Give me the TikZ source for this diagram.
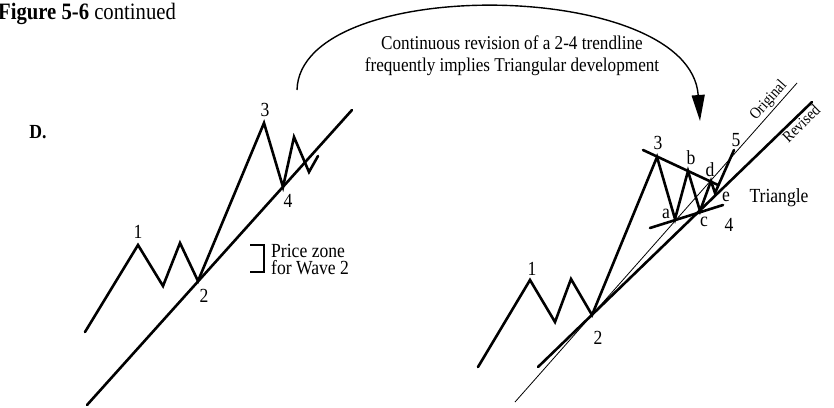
\documentclass[tikz,border=0pt]{standalone}
\usepackage{fontspec}
\setmainfont{Liberation Serif}[FakeStretch=0.88]
\usetikzlibrary{arrows.meta,calc}
\tikzset{wavepic/.style={x=1pt,y=-1pt,font=\fontsize{20}{22}\selectfont}}
\tikzset{wave/.style={line width=2.6pt,line join=miter,line cap=round},
         trend/.style={line width=2.6pt,line cap=round},
         orig/.style={line width=0.8pt},
         lbl/.style={inner sep=0pt},
         linelbl/.style={inner sep=2pt,font=\fontsize{16}{18}\selectfont}}

\begin{document}
\begin{tikzpicture}[wavepic]
    \useasboundingbox (0,0) rectangle (834,407);
    \node[lbl,anchor=base west,font=\fontsize{23.5}{26}\selectfont] (title) at (-2,19) {\textbf{Figure 5-6} continued};
    \node[lbl,font=\fontsize{20}{22}\selectfont\bfseries] (panel) at (38,132) {D.};
    % left: impulse with 2-4 trendline
    \coordinate (L0) at (85,332);  \coordinate (L1) at (138,245);
    \coordinate (La) at (163,286); \coordinate (Lb) at (180,243);
    \coordinate (L2) at (198,281); \coordinate (L3) at (264,123);
    \coordinate (L4) at (283,187); \coordinate (Lc) at (294,137);
    \coordinate (Ld) at (309,172); \coordinate (Le) at (318,156);
    \draw[wave] (L0) -- (L1) -- (La) -- (Lb) -- (L2) -- (L3) -- (L4) -- (Lc) -- (Ld) -- (Le);
    \coordinate (LT0) at (87,405); \coordinate (LT1) at (352,110);
    \draw[trend] (LT0) -- (LT1);
    \node[lbl] (l1) at (138,232) {1};
    \node[lbl] (l2) at (204,296) {2};
    \node[lbl] (l3) at (265,110) {3};
    \node[lbl] (l4) at (288,201) {4};
    % price zone for wave 2
    \coordinate (B0) at (250,245); \coordinate (B1) at (264,245);
    \coordinate (B2) at (264,272); \coordinate (B3) at (250,272);
    \draw[line width=1.3pt] (B0) -- (B1) -- (B2) -- (B3);
    \node[lbl,anchor=west,align=left,font=\fontsize{20}{17}\selectfont] (zone) at (271,260) {Price zone\\for Wave 2};
    % curved arrow
    \node[lbl,align=center,font=\fontsize{19.5}{22}\selectfont] (note) at (512,56) {Continuous revision of a 2-4 trendline\\frequently implies Triangular development};
    \coordinate (A0) at (297,90); \coordinate (A1) at (700,121);
    \draw[line width=1.4pt,-{Triangle[length=26pt,width=13pt]}] (A0) .. controls (300,-26) and (690,-22) .. (A1);
    % right: same wave, trendline revised into a triangle
    \coordinate (R0) at (478,367); \coordinate (R1) at (530,280);
    \coordinate (Ra) at (555,322); \coordinate (Rb) at (571,279);
    \coordinate (R2) at (592,315); \coordinate (R3) at (657,157);
    \coordinate (Ta) at (675,219); \coordinate (Tb) at (688,171);
    \coordinate (Tc) at (700,211); \coordinate (Td) at (711,181);
    \coordinate (Te) at (715,193); \coordinate (R5) at (734,150);
    \draw[wave] (R0) -- (R1) -- (Ra) -- (Rb) -- (R2) -- (R3) -- (Ta) -- (Tb) -- (Tc) -- (Td) -- (Te) -- (R5);
    \coordinate (TU0) at (643,150); \coordinate (TU1) at (718,185);
    \coordinate (TL0) at (650,228); \coordinate (TL1) at (723,205);
    \draw[trend] (TU0) -- (TU1);
    \draw[trend] (TL0) -- (TL1);
    \coordinate (O0) at (515,402); \coordinate (O1) at (797,83);
    \coordinate (V0) at (538,367); \coordinate (V1) at (812,102);
    \draw[orig] (O0) -- (O1);
    \draw[trend] (V0) -- (V1);
    \node[linelbl,rotate=48.5,anchor=south] (origlbl) at ($(O0)!0.925!(O1)$) {Original};
    \node[linelbl,rotate=44,anchor=north] (revlbl) at ($(V0)!0.94!(V1)$) {Revised};
    \node[lbl] (r1) at (532,269) {1};
    \node[lbl] (r2) at (598,338) {2};
    \node[lbl] (r3) at (658,143) {3};
    \node[lbl] (ra) at (666,214) {a};
    \node[lbl] (rb) at (691,158) {b};
    \node[lbl] (rc) at (704,222) {c};
    \node[lbl] (rd) at (710,170) {d};
    \node[lbl] (re) at (726,197) {e};
    \node[lbl] (r4) at (729,225) {4};
    \node[lbl] (r5) at (736,140) {5};
    \node[lbl] (tri) at (779,198) {Triangle};
\end{tikzpicture}
\end{document}
